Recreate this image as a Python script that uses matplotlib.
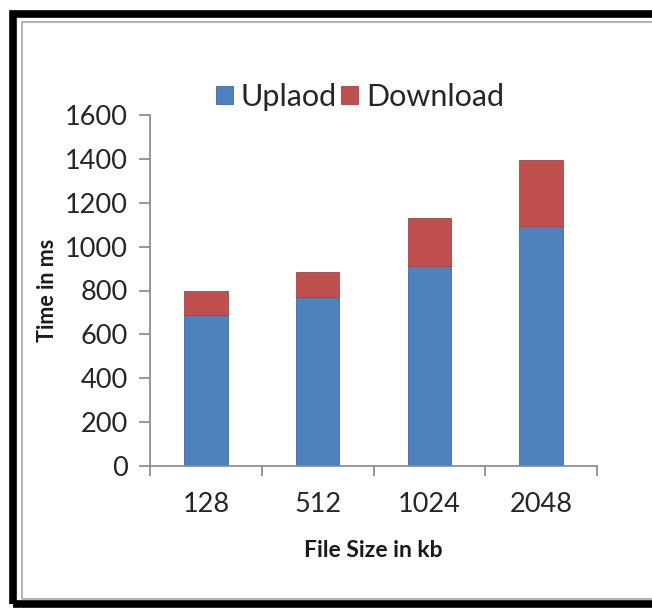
import matplotlib.pyplot as plt
from matplotlib.patches import Rectangle
import numpy as np

# stacked timing per file size
file_sizes = ["128", "512", "1024", "2048"]
upload_ms = [690, 770, 912, 1095]
download_ms = [110, 114, 218, 300]
y_ticks = [0, 200, 400, 600, 800, 1000, 1200, 1400, 1600]

BLUE = "#4F81BD"
RED = "#C0504D"
AXIS_GRAY = "#868686"

plt.rcParams["font.family"] = ["Lato", "DejaVu Sans"]

W, H = 652, 610
fig = plt.figure(figsize=(W / 100, H / 100), dpi=100)

# outer black frame (runs off the right edge) and thin gray chart border
fig.patches.append(Rectangle((13.5 / W, 1 - 603.5 / H), 700 / W, 590 / H,
                             transform=fig.transFigure, fill=False,
                             edgecolor="black", linewidth=5.5))
fig.patches.append(Rectangle((22 / W, 1 - 599 / H), 700 / W, 577 / H,
                             transform=fig.transFigure, fill=False,
                             edgecolor="#A6A6A6", linewidth=1.2))

ax = fig.add_axes([150 / W, 1 - 466 / H, 447 / W, 351 / H])
x = np.arange(len(file_sizes))
ax.bar(x, upload_ms, width=0.39, color=BLUE, edgecolor="#3F6B9E",
       linewidth=0.6, label="Uplaod")
ax.bar(x, download_ms, width=0.39, bottom=upload_ms, color=RED,
       edgecolor="#A34441", linewidth=0.6, label="Download")

ax.set_xlim(-0.5, len(file_sizes) - 0.5)
ax.set_ylim(0, 1600)
ax.set_yticks(y_ticks)
ax.set_xticks(x)
ax.set_xticklabels(file_sizes)
ax.set_xticks(np.arange(len(file_sizes) + 1) - 0.5, minor=True)

for side in ("top", "right"):
    ax.spines[side].set_visible(False)
for side in ("left", "bottom"):
    ax.spines[side].set_color(AXIS_GRAY)
    ax.spines[side].set_linewidth(1.2)

ax.tick_params(axis="y", direction="out", length=8, width=1.2,
               color=AXIS_GRAY, labelsize=19.5, pad=8, labelcolor="#262626")
ax.tick_params(axis="x", which="major", length=0, labelsize=19.5, pad=19,
               labelcolor="#262626")
ax.tick_params(axis="x", which="minor", direction="out", length=7,
               width=1.2, color=AXIS_GRAY)

ax.set_xlabel("File Size in kb", fontsize=16.5, fontweight="bold",
              labelpad=16, color="#1a1a1a")
ax.set_ylabel("Time in ms", fontsize=15.5, fontweight="bold", labelpad=5,
              color="#1a1a1a")

fig.legend(loc="center", bbox_to_anchor=(360 / W, 1 - 97 / H), ncol=2,
           frameon=False, fontsize=22, handlelength=0.55, handleheight=0.55,
           handletextpad=0.25, columnspacing=0.15, labelcolor="#262626")

fig.savefig("out.png", dpi=100)
